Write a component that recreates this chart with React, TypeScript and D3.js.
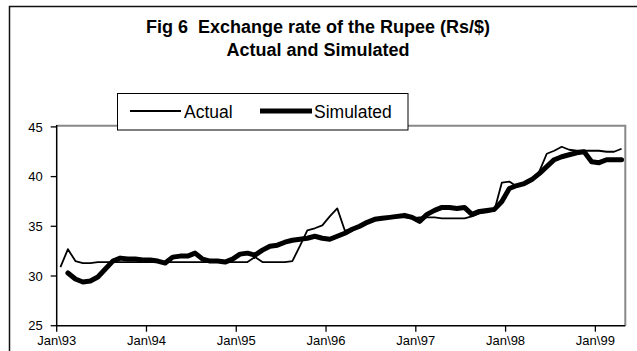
import React, { useEffect, useRef } from 'react';
import * as d3 from 'd3';

// monthly, Jan 1993 .. Apr 1999
const actual = [
  30.9, 32.7, 31.5, 31.3, 31.3, 31.4, 31.4, 31.4, 31.4, 31.4, 31.4, 31.4,
  31.4, 31.4, 31.4, 31.4, 31.4, 31.4, 31.4, 31.4, 31.4, 31.4, 31.4, 31.4,
  31.4, 31.4, 31.9, 31.4, 31.4, 31.4, 31.4, 31.5, 33.0, 34.6, 34.8, 35.1,
  36.0, 36.8, 34.6, 34.6, 35.0, 35.3, 35.6, 35.8, 35.9, 35.9, 35.9, 35.8,
  35.9, 35.9, 35.9, 35.8, 35.8, 35.8, 35.8, 36.0, 36.3, 36.4, 36.6, 39.4,
  39.5, 39.0, 39.4, 39.8, 40.5, 42.3, 42.6, 43.0, 42.7, 42.6, 42.6, 42.6,
  42.6, 42.5, 42.5, 42.8,
];

const simulated: (number | null)[] = [
  null, 30.3, 29.7, 29.4, 29.5, 29.9, 30.7, 31.5, 31.8, 31.7, 31.7, 31.6,
  31.6, 31.5, 31.3, 31.9, 32.0, 32.0, 32.3, 31.7, 31.5, 31.5, 31.4, 31.7,
  32.2, 32.3, 32.1, 32.6, 33.0, 33.1, 33.4, 33.6, 33.7, 33.8, 34.0, 33.8,
  33.7, 34.0, 34.3, 34.7, 35.0, 35.4, 35.7, 35.8, 35.9, 36.0, 36.1, 35.9,
  35.5, 36.2, 36.6, 36.9, 36.9, 36.8, 36.9, 36.2, 36.5, 36.6, 36.7, 37.5,
  38.8, 39.1, 39.3, 39.7, 40.3, 41.0, 41.7, 42.0, 42.2, 42.4, 42.5, 41.5,
  41.4, 41.7, 41.7, 41.7,
];

const yearLabels = ['Jan\\93', 'Jan\\94', 'Jan\\95', 'Jan\\96', 'Jan\\97', 'Jan\\98', 'Jan\\99'];
const yTicks = [25, 30, 35, 40, 45];
const seriesNames = ['Actual', 'Simulated'];

const W = 637;
const H = 351;
const FONT = '"Liberation Sans", Arial, sans-serif';

const App: React.FC = () => {
  const ref = useRef<SVGSVGElement | null>(null);

  useEffect(() => {
    const svg = d3.select(ref.current);
    svg.selectAll('*').remove();

    const left = 56.7;
    const right = 625.3;
    const top = 126.9;
    const bottom = 325.7;

    const x = d3.scaleLinear().domain([0, actual.length]).range([left, right]);
    const y = d3.scaleLinear().domain([25, 45]).range([bottom, top]);

    // chart frame
    svg.append('rect')
      .attr('x', 9.5).attr('y', 6.5)
      .attr('width', 700).attr('height', 400)
      .attr('fill', 'white').attr('stroke', '#111').attr('stroke-width', 1.5);

    // title
    const title = svg.append('text')
      .attr('text-anchor', 'middle')
      .style('white-space', 'pre')
      .attr('font-family', FONT).attr('font-weight', 'bold').attr('font-size', 18);
    title.append('tspan').attr('x', 318).attr('y', 33).text('Fig 6  Exchange rate of the Rupee (Rs/$)');
    title.append('tspan').attr('x', 318).attr('y', 56).text('Actual and Simulated');

    // plot area border (grey top/right)
    svg.append('path')
      .attr('d', `M${left},${top - 1.2}H${right}V${bottom}`)
      .attr('fill', 'none').attr('stroke', '#888').attr('stroke-width', 2);

    // axes
    svg.append('path')
      .attr('d', `M${left},${top - 2}V${bottom}H${right}`)
      .attr('fill', 'none').attr('stroke', '#000').attr('stroke-width', 1.5);

    yTicks.forEach((t) => {
      svg.append('line')
        .attr('x1', left - 6).attr('x2', left)
        .attr('y1', y(t)).attr('y2', y(t))
        .attr('stroke', '#000').attr('stroke-width', 1.3);
      svg.append('text')
        .attr('x', left - 14).attr('y', y(t)).attr('dy', '0.36em')
        .attr('text-anchor', 'end')
        .attr('font-family', FONT).attr('font-size', 13)
        .text(String(t));
    });

    yearLabels.forEach((lab, k) => {
      const xp = x(k * 12);
      svg.append('line')
        .attr('x1', xp).attr('x2', xp)
        .attr('y1', bottom).attr('y2', bottom + 6)
        .attr('stroke', '#000').attr('stroke-width', 1.3);
      svg.append('text')
        .attr('x', xp).attr('y', bottom + 19)
        .attr('text-anchor', 'middle')
        .attr('font-family', FONT).attr('font-size', 13)
        .text(lab);
    });

    // series
    const line = d3.line<number | null>()
      .defined((d) => d != null)
      .x((_, i) => x(i + 0.5))
      .y((d) => y(d as number));

    svg.append('path')
      .datum(actual as (number | null)[])
      .attr('d', line)
      .attr('fill', 'none').attr('stroke', '#000')
      .attr('stroke-width', 1.8).attr('stroke-linejoin', 'round');

    svg.append('path')
      .datum(simulated)
      .attr('d', line)
      .attr('fill', 'none').attr('stroke', '#000')
      .attr('stroke-width', 5).attr('stroke-linejoin', 'round').attr('stroke-linecap', 'round');

    // legend
    const lg = svg.append('g');
    lg.append('rect')
      .attr('x', 117.5).attr('y', 93.5).attr('width', 290.5).attr('height', 36.5)
      .attr('fill', 'white').attr('stroke', '#000').attr('stroke-width', 1);
    const items = [
      { x0: 130, x1: 181, w: 1.8, tx: 184 },
      { x0: 260, x1: 312, w: 5, tx: 314 },
    ];
    items.forEach((it, k) => {
      lg.append('line')
        .attr('x1', it.x0).attr('x2', it.x1).attr('y1', 111).attr('y2', 111)
        .attr('stroke', '#000').attr('stroke-width', it.w);
      lg.append('text')
        .attr('x', it.tx).attr('y', 118)
        .attr('font-family', FONT).attr('font-size', 17.5)
        .text(seriesNames[k]);
    });
  }, []);

  return (
    <svg
      ref={ref}
      width={W}
      height={H}
      style={{ position: 'fixed', left: 0, top: 0, background: 'white' }}
    />
  );
};

export default App;
